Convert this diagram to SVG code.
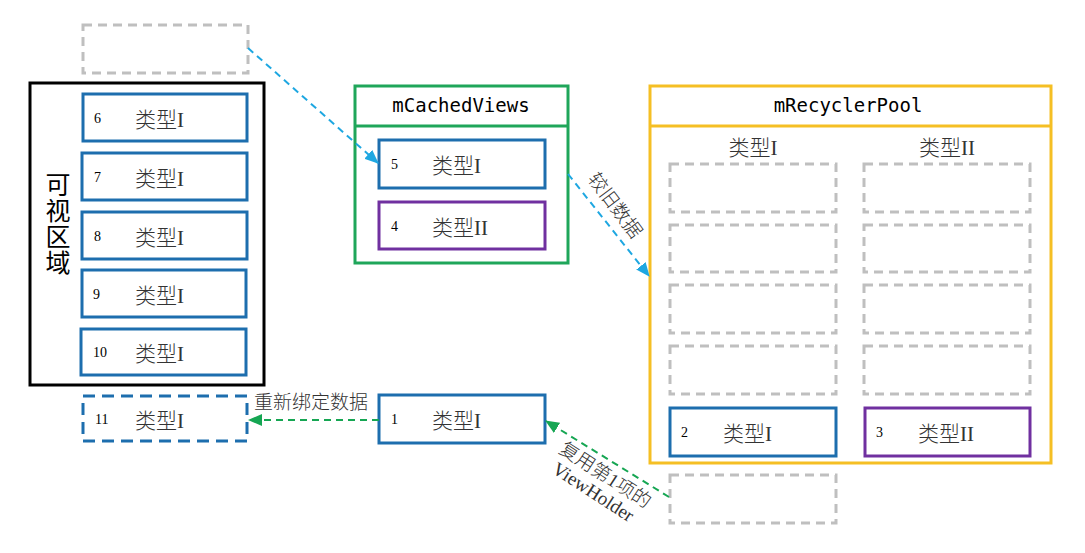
<svg xmlns="http://www.w3.org/2000/svg" width="1085" height="553" viewBox="0 0 1085 553">
<defs>
<style>
.item{fill:#fff;stroke:#1d6eae;stroke-width:3}
.item2{fill:#fff;stroke:#7030a0;stroke-width:3}
.ghost{fill:none;stroke:#bfbfbf;stroke-width:3;stroke-dasharray:9 6}
.num{font-family:"Liberation Serif",serif;font-size:14px;fill:#000}
.lbl{font-family:"Liberation Serif","Noto Sans CJK SC",serif;font-size:21px;fill:#333;font-weight:300}
.hdr{font-family:"DejaVu Sans Mono","Liberation Mono",monospace;font-size:19px;fill:#000;text-anchor:middle}
.note{font-family:"Liberation Serif","Noto Sans CJK SC",serif;font-size:19px;fill:#333;font-weight:300}
.blueline{fill:none;stroke:#1ea7e1;stroke-width:2;stroke-dasharray:7 5}
.greenline{fill:none;stroke:#16a653;stroke-width:2;stroke-dasharray:7 5}
</style>
<marker id="ab" markerUnits="userSpaceOnUse" markerWidth="14" markerHeight="12" refX="13" refY="6" orient="auto"><path d="M0,0 L14,6 L0,12 Z" fill="#1ea7e1"/></marker>
<marker id="ag" markerUnits="userSpaceOnUse" markerWidth="14" markerHeight="12" refX="13" refY="6" orient="auto"><path d="M0,0 L14,6 L0,12 Z" fill="#16a653"/></marker>
</defs>
<rect width="1085" height="553" fill="#fff"/>

<g id="ghost-top"><rect class="ghost" x="83" y="25" width="165" height="48"/></g>

<g id="visible-area">
<rect x="30" y="83" width="234" height="302" fill="#fff" stroke="#000" stroke-width="3"/>
<text x="58" y="172" writing-mode="vertical-rl" font-family="'Noto Sans CJK SC',sans-serif" font-size="25" letter-spacing="1" fill="#000">可视区域</text>
</g>

<g id="item6"><rect class="item" x="83" y="94" width="164" height="47"/><text class="num" x="94" y="123">6</text><text class="lbl" x="135" y="127">类型I</text></g>
<g id="item7"><rect class="item" x="82" y="153" width="165" height="47"/><text class="num" x="94" y="182">7</text><text class="lbl" x="135" y="186">类型I</text></g>
<g id="item8"><rect class="item" x="82" y="212" width="165" height="47"/><text class="num" x="94" y="241">8</text><text class="lbl" x="135" y="245">类型I</text></g>
<g id="item9"><rect class="item" x="82" y="270" width="164" height="47"/><text class="num" x="93" y="299">9</text><text class="lbl" x="135" y="303">类型I</text></g>
<g id="item10"><rect class="item" x="81" y="329" width="165" height="46"/><text class="num" x="93" y="357">10</text><text class="lbl" x="135" y="361">类型I</text></g>
<g id="item11"><rect x="83" y="396" width="164" height="45" fill="#fff" stroke="#1d6eae" stroke-width="3" stroke-dasharray="12 7"/><text class="num" x="95" y="424">11</text><text class="lbl" x="135" y="428">类型I</text></g>

<g id="mCachedViews">
<rect x="355" y="86" width="213" height="177" fill="#fff" stroke="#1fa65a" stroke-width="3"/>
<line x1="355" y1="126" x2="568" y2="126" stroke="#1fa65a" stroke-width="3"/>
<text class="hdr" x="461" y="112">mCachedViews</text>
</g>
<g id="item5"><rect class="item" x="379" y="140" width="166" height="48"/><text class="num" x="391" y="169">5</text><text class="lbl" x="432" y="173">类型I</text></g>
<g id="item4"><rect class="item2" x="379" y="202" width="166" height="47"/><text class="num" x="391" y="231">4</text><text class="lbl" x="432" y="235">类型II</text></g>

<g id="item1"><rect class="item" x="379" y="395" width="166" height="48"/><text class="num" x="391" y="424">1</text><text class="lbl" x="432" y="428">类型I</text></g>

<g id="mRecyclerPool">
<rect x="650" y="86" width="401" height="377" fill="#fff" stroke="#f5bf24" stroke-width="3"/>
<line x1="650" y1="126" x2="1051" y2="126" stroke="#f5bf24" stroke-width="3"/>
<text class="hdr" x="848" y="112">mRecyclerPool</text>
<text class="lbl" x="753" y="155" text-anchor="middle">类型I</text>
<text class="lbl" x="947" y="155" text-anchor="middle">类型II</text>
<rect class="ghost" x="670" y="164" width="166" height="48"/>
<rect class="ghost" x="670" y="225" width="166" height="47"/>
<rect class="ghost" x="670" y="285" width="166" height="48"/>
<rect class="ghost" x="670" y="346" width="166" height="48"/>
<rect class="ghost" x="864" y="164" width="166" height="48"/>
<rect class="ghost" x="864" y="225" width="166" height="47"/>
<rect class="ghost" x="864" y="285" width="166" height="48"/>
<rect class="ghost" x="864" y="346" width="166" height="48"/>
</g>
<g id="item2"><rect class="item" x="670" y="408" width="166" height="48"/><text class="num" x="681" y="437">2</text><text class="lbl" x="723" y="441">类型I</text></g>
<g id="item3"><rect class="item2" x="865" y="408" width="165" height="48"/><text class="num" x="876" y="437">3</text><text class="lbl" x="918" y="441">类型II</text></g>

<g id="ghost-bottom"><rect class="ghost" x="670" y="475" width="166" height="48"/></g>

<g id="connectors">
<line class="blueline" x1="248" y1="48" x2="378" y2="163" marker-end="url(#ab)"/>
<line class="blueline" x1="568" y1="174" x2="649" y2="276" marker-end="url(#ab)"/>
<text class="note" transform="translate(587,179) rotate(53)">较旧数据</text>
<line class="greenline" x1="379" y1="420" x2="249" y2="420" marker-end="url(#ag)"/>
<text class="note" x="254" y="409">重新绑定数据</text>
<line class="greenline" x1="669" y1="497" x2="546" y2="421" marker-end="url(#ag)"/>
<text class="note" transform="translate(558,452) rotate(33)">复用第1项的</text>
<text class="note" transform="translate(551,472) rotate(33)">ViewHolder</text>
</g>
</svg>
